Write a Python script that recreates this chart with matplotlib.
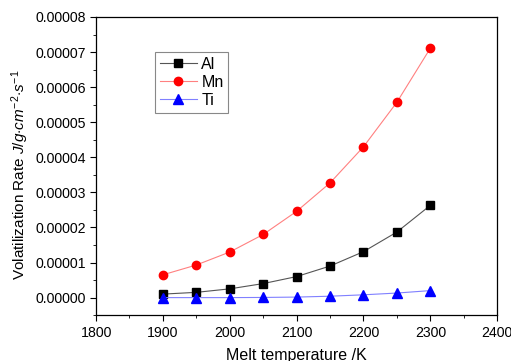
import matplotlib
matplotlib.use("Agg")
import matplotlib.pyplot as plt
from matplotlib.ticker import MultipleLocator, FormatStrFormatter

plt.rcParams['font.family'] = ['Liberation Sans', 'DejaVu Sans']
plt.rcParams['mathtext.fontset'] = 'custom'
plt.rcParams['mathtext.rm'] = 'Liberation Sans'
plt.rcParams['mathtext.it'] = 'Liberation Sans:italic'

# data
temps = [1900, 1950, 2000, 2050, 2100, 2150, 2200, 2250, 2300]
al = [0.10e-5, 0.15e-5, 0.25e-5, 0.40e-5, 0.60e-5, 0.90e-5, 1.31e-5, 1.87e-5, 2.63e-5]
mn = [0.65e-5, 0.93e-5, 1.30e-5, 1.80e-5, 2.46e-5, 3.27e-5, 4.30e-5, 5.57e-5, 7.11e-5]
ti = [0.0, 0.0, 0.0, 0.005e-5, 0.015e-5, 0.04e-5, 0.08e-5, 0.13e-5, 0.20e-5]

fig = plt.figure(figsize=(5.11, 3.61), dpi=100)
ax = fig.add_axes([0.188, 0.127, 0.785, 0.826])

ax.plot(temps, al, color='#555555', lw=0.8, marker='s', ms=5.5, mfc='black', mec='black', label='Al')
ax.plot(temps, mn, color='#ff8080', lw=0.8, marker='o', ms=6, mfc='red', mec='red', label='Mn')
ax.plot(temps, ti, color='#8080ff', lw=0.8, marker='^', ms=6.5, mfc='blue', mec='blue', label='Ti')

ax.set_xlim(1800, 2400)
ax.set_ylim(-0.000005, 0.00008)
ax.xaxis.set_major_locator(MultipleLocator(100))
ax.xaxis.set_minor_locator(MultipleLocator(50))
ax.yaxis.set_major_locator(MultipleLocator(0.00001))
ax.yaxis.set_minor_locator(MultipleLocator(0.000005))
ax.yaxis.set_major_formatter(FormatStrFormatter('%.5f'))
ax.tick_params(which='both', direction='out', labelsize=10.2, top=False, right=False)
ax.tick_params(which='major', length=4)
ax.tick_params(which='minor', length=2.5)
for s in ax.spines.values():
    s.set_linewidth(0.9)

ax.set_xlabel('Melt temperature /K', fontsize=11.5, labelpad=6)
ax.set_ylabel(r'Volatilization Rate $J/g{\cdot}cm^{-2}{\cdot}s^{-1}$', fontsize=11)
ax.yaxis.set_label_coords(-0.162, 0.47)

leg = ax.legend(loc='upper left', bbox_to_anchor=(0.147, 0.883), borderaxespad=0, fontsize=11.5,
                fancybox=False, framealpha=1, edgecolor='#888888',
                handlelength=2.3, borderpad=0.3, labelspacing=0.2, handletextpad=0.3)
leg.get_frame().set_linewidth(0.8)

fig.savefig('out.png', dpi=100)
